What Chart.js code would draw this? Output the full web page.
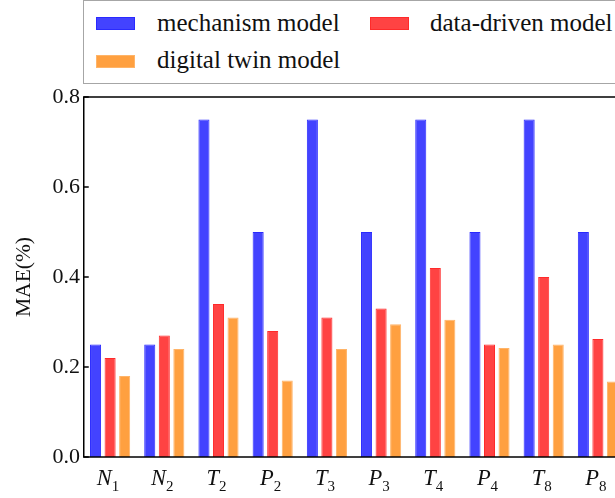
<!DOCTYPE html>
<html>
<head>
<meta charset="utf-8">
<script src="https://cdn.jsdelivr.net/npm/chart.js@4"></script>
<style>
  html, body { margin: 0; padding: 0; background: #fff; overflow: hidden; }
  #wrap { position: relative; width: 627px; height: 498px; }
  #legendBox {
    position: absolute; left: 83px; top: 0px; width: 560px; height: 84px;
    border: 1.5px solid #a6a6a6; box-sizing: border-box; background: #fff;
  }
  .sw { position: absolute; width: 39px; height: 13px; box-sizing: border-box; }
  .txt {
    position: absolute; white-space: nowrap; line-height: 25px; height: 25px;
    font-family: 'Liberation Serif', serif; font-size: 25px; color: #111;
  }
</style>
</head>
<body>
<div id="wrap">
  <canvas id="chart" width="627" height="498"></canvas>
  <div id="legendBox"></div>
</div>
<script>
const categories = ['N1', 'N2', 'T2', 'P2', 'T3', 'P3', 'T4', 'P4', 'T8', 'P8'];
const mechanism = [0.25, 0.25, 0.75, 0.5, 0.75, 0.5, 0.75, 0.5, 0.75, 0.5];
const dataDriven = [0.22, 0.27, 0.34, 0.28, 0.31, 0.33, 0.42, 0.25, 0.40, 0.262];
const digitalTwin = [0.18, 0.24, 0.31, 0.17, 0.24, 0.295, 0.305, 0.242, 0.25, 0.168];
const yTicks = [0, 0.2, 0.4, 0.6, 0.8];

const seriesNames = ['mechanism model', 'data-driven model', 'digital twin model'];
const fills = ['#4343ff', '#ff4343', '#ffa040'];
const edges = ['#2a2aff', '#ff2a2a', '#ffb468'];

const font = 'Liberation Serif';

// legend (html), swatch x/y and text x/baseline
const legendSpots = [
  { sx: 96, sy: 17, tx: 157, base: 31 },
  { sx: 370, sy: 17, tx: 430, base: 31 },
  { sx: 96, sy: 55, tx: 157, base: 68 }
];
const wrap = document.getElementById('wrap');
seriesNames.forEach((name, i) => {
  const p = legendSpots[i];
  const sw = document.createElement('div');
  sw.className = 'sw';
  sw.style.left = p.sx + 'px';
  sw.style.top = p.sy + 'px';
  sw.style.background = fills[i];
  sw.style.border = '1px solid ' + edges[i];
  wrap.appendChild(sw);
  const t = document.createElement('div');
  t.className = 'txt';
  t.style.left = p.tx + 'px';
  t.style.top = (p.base - 21) + 'px';
  t.textContent = name;
  wrap.appendChild(t);
});

// frame + inward ticks
const framePlugin = {
  id: 'frame',
  afterDraw(chart) {
    const ctx = chart.ctx;
    const a = chart.chartArea;
    const y = chart.scales.y;
    const left = a.left + 0.75;
    ctx.save();
    ctx.strokeStyle = '#000';
    ctx.lineWidth = 1.5;
    ctx.strokeRect(left, a.top, a.right - left, a.bottom - a.top);
    ctx.beginPath();
    yTicks.forEach(v => {
      const py = y.getPixelForValue(v);
      ctx.moveTo(left, py);
      ctx.lineTo(left + 5, py);
      ctx.moveTo(a.right, py);
      ctx.lineTo(a.right - 5, py);
    });
    ctx.stroke();
    ctx.restore();
  }
};

// x labels: italic letter with subscript number
const xLabelPlugin = {
  id: 'xlabels',
  afterDraw(chart) {
    const ctx = chart.ctx;
    const x = chart.scales.x;
    const big = 'italic 22.5px "' + font + '"';
    const small = '15px "' + font + '"';
    ctx.save();
    ctx.fillStyle = '#111';
    ctx.textBaseline = 'alphabetic';
    ctx.textAlign = 'left';
    categories.forEach((c, i) => {
      const cx = x.getPixelForValue(i) - 2;
      const letter = c[0];
      const sub = c.slice(1);
      ctx.font = big;
      const w1 = ctx.measureText(letter).width;
      ctx.font = small;
      const w2 = ctx.measureText(sub).width;
      const x0 = cx - (w1 + w2) / 2;
      ctx.font = big;
      ctx.fillText(letter, x0, 485);
      ctx.font = small;
      ctx.fillText(sub, x0 + w1, 491);
    });
    ctx.restore();
  }
};

new Chart(document.getElementById('chart').getContext('2d'), {
  type: 'bar',
  data: {
    labels: categories,
    datasets: [mechanism, dataDriven, digitalTwin].map((d, i) => ({
      label: seriesNames[i],
      data: d,
      backgroundColor: fills[i],
      borderColor: edges[i],
      borderWidth: 1,
      categoryPercentage: 0.805,
      barPercentage: 0.76
    }))
  },
  options: {
    responsive: false,
    animation: false,
    layout: { padding: { top: 97, right: 2, left: 0, bottom: 0 } },
    plugins: { legend: { display: false }, tooltip: { enabled: false } },
    scales: {
      x: {
        grid: { display: false, drawTicks: false },
        border: { display: false },
        ticks: { display: false },
        afterFit: s => { s.height = 41; }
      },
      y: {
        min: 0, max: 0.8,
        afterBuildTicks: s => { s.ticks = yTicks.map(v => ({ value: v })); },
        grid: { display: false, drawTicks: false },
        border: { display: false },
        ticks: {
          padding: 3,
          color: '#111',
          font: { family: font, size: 22 },
          callback: v => Number(v).toFixed(1)
        },
        title: {
          display: true,
          text: 'MAE(%)',
          color: '#111',
          font: { family: font, size: 21.5 },
          padding: { top: 11, bottom: 0 }
        },
        afterFit: s => { s.width = 83; }
      }
    }
  },
  plugins: [framePlugin, xLabelPlugin]
});
</script>
</body>
</html>
